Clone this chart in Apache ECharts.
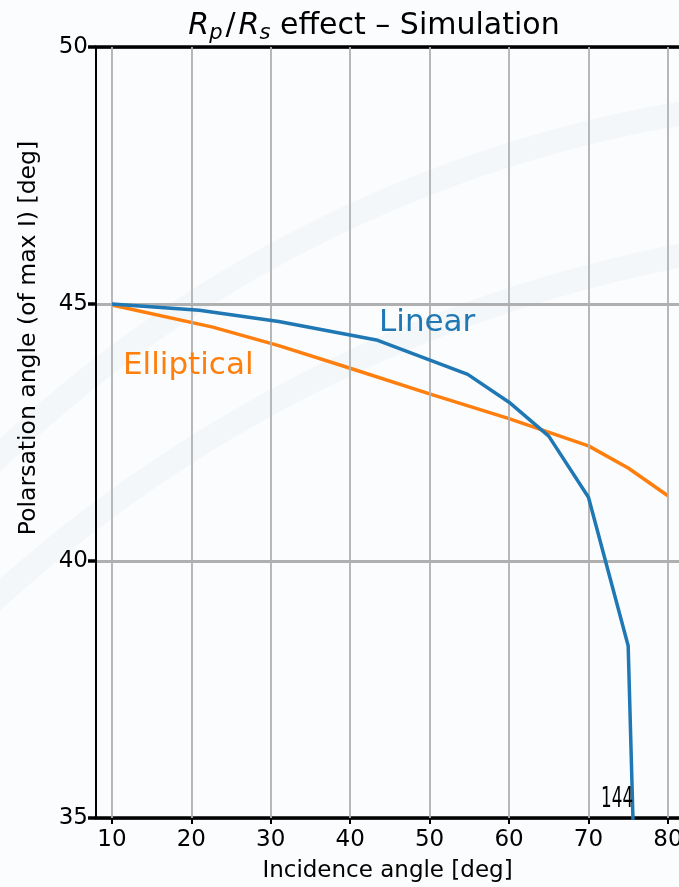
<!DOCTYPE html>
<html><head><meta charset="utf-8">
<script src="https://cdn.jsdelivr.net/npm/echarts@6/dist/echarts.min.js"></script>
<style>html,body{margin:0;padding:0;background:#fbfcfd;}#c{width:679px;height:887px;}</style>
</head><body><div id="c"></div>
<script>
const xTicks = [10, 20, 30, 40, 50, 60, 70, 80];
const yTicks = [35, 40, 45, 50];
const linearData = [[10,45.0],[21,44.88],[31,44.66],[43.3,44.3],[54.8,43.63],[60,43.09],[65,42.43],[70,41.24],[75,38.35],[76.5,30]];
const ellipticalData = [[10,44.98],[22.7,44.55],[31,44.19],[40,43.75],[50,43.25],[60,42.77],[70,42.24],[75,41.81],[80,41.27]];
const F = 'DejaVu Sans';
const chart = echarts.init(document.getElementById('c'));
chart.setOption({
  backgroundColor: '#fbfcfd',
  animation: false,
  title: {
    text: '{i|R}{s|p}{sl|/}{i|R}{s|s}{n| effect – Simulation}',
    left: 369, top: 3, textAlign: 'center',
    textStyle: { fontWeight: 'normal', rich: {
      i: { fontFamily: F, fontStyle: 'italic', fontWeight: 'normal', fontSize: 30, color: '#000' },
      s: { fontFamily: F, fontStyle: 'italic', fontWeight: 'normal', fontSize: 21, color: '#000', verticalAlign: 'bottom', padding: [15,0,0,0] },
      sl: { fontFamily: F, fontWeight: 'normal', fontSize: 30, color: '#000', padding: [0,3,0,3] },
      n: { fontFamily: F, fontWeight: 'normal', fontSize: 30, color: '#000' }
    }}
  },
  grid: { left: 96, top: 47, bottom: 69, right: 0, outerBoundsMode: 'none', containLabel: false },
  graphic: [
    { type: 'circle', z: -10, silent: true, shape: { cx: 900, cy: 1400, r: 1305 }, style: { fill: 'none', stroke: 'rgba(228,234,241,0.3)', lineWidth: 24 } },
    { type: 'circle', z: -10, silent: true, shape: { cx: 950, cy: 1650, r: 1420 }, style: { fill: 'none', stroke: 'rgba(228,234,241,0.3)', lineWidth: 24 } },
    { type: 'text', left: 379, top: 307, z: 20, style: { text: 'Linear', fill: '#1f77b4', font: '31px "DejaVu Sans"' } },
    { type: 'text', left: 123, top: 350, z: 20, style: { text: 'Elliptical', fill: '#ff7f0e', font: '31px "DejaVu Sans"' } },
    { type: 'text', left: 601, top: 786, z: 20, scaleX: 0.6, style: { text: '144', fill: '#000', font: '28px "DejaVu Sans"' } },
    { type: 'text', x: 29, y: 338, rotation: Math.PI / 2, z: 20, style: { text: 'Polarsation angle (of max I) [deg]', fill: '#000', font: '23.5px "DejaVu Sans"', align: 'center', verticalAlign: 'middle' } }
  ],
  xAxis: [{
    type: 'value', min: 8, max: 81.4,
    name: 'Incidence angle [deg]', nameLocation: 'middle', nameGap: 42,
    nameTextStyle: { fontFamily: F, fontSize: 23, color: '#000' },
    axisLine: { show: true, onZero: false, lineStyle: { color: '#000', width: 3.5 } },
    axisTick: { show: true, length: 6, customValues: xTicks, lineStyle: { color: '#000', width: 2 } },
    axisLabel: { customValues: xTicks, fontFamily: F, fontSize: 23, color: '#000', margin: 11, showMinLabel: true, showMaxLabel: true },
    splitLine: { show: false }
  }, {
    type: 'value', min: 8, max: 81.4, position: 'top',
    axisLine: { show: true, lineStyle: { color: '#000', width: 3.5 } },
    axisTick: { show: false }, axisLabel: { show: false }, splitLine: { show: false }
  }],
  yAxis: {
    type: 'value', min: 35, max: 50, interval: 5,
    axisLine: { show: true, lineStyle: { color: '#000', width: 2 } },
    axisTick: { show: true, length: 8, lineStyle: { color: '#000', width: 3.5 } },
    axisLabel: { fontFamily: F, fontSize: 23, color: '#000', margin: 8 },
    splitLine: { show: true, lineStyle: { color: '#b0b0b0', width: 2.8 } }
  },
  series: [
    { type: 'line', z: 1, data: [], silent: true,
      markLine: { silent: true, symbol: ['none','none'], label: { show: false },
        lineStyle: { color: '#b0b0b0', width: 1.8, type: 'solid' },
        data: xTicks.map(v => ({ xAxis: v })) } },
    { name: 'Linear', type: 'line', z: 5, data: linearData, showSymbol: false, clip: true,
      lineStyle: { color: '#1f77b4', width: 3.5 } },
    { name: 'Elliptical', type: 'line', z: 4, data: ellipticalData, showSymbol: false, clip: true,
      lineStyle: { color: '#ff7f0e', width: 3.5 } }
  ]
});
</script></body></html>
